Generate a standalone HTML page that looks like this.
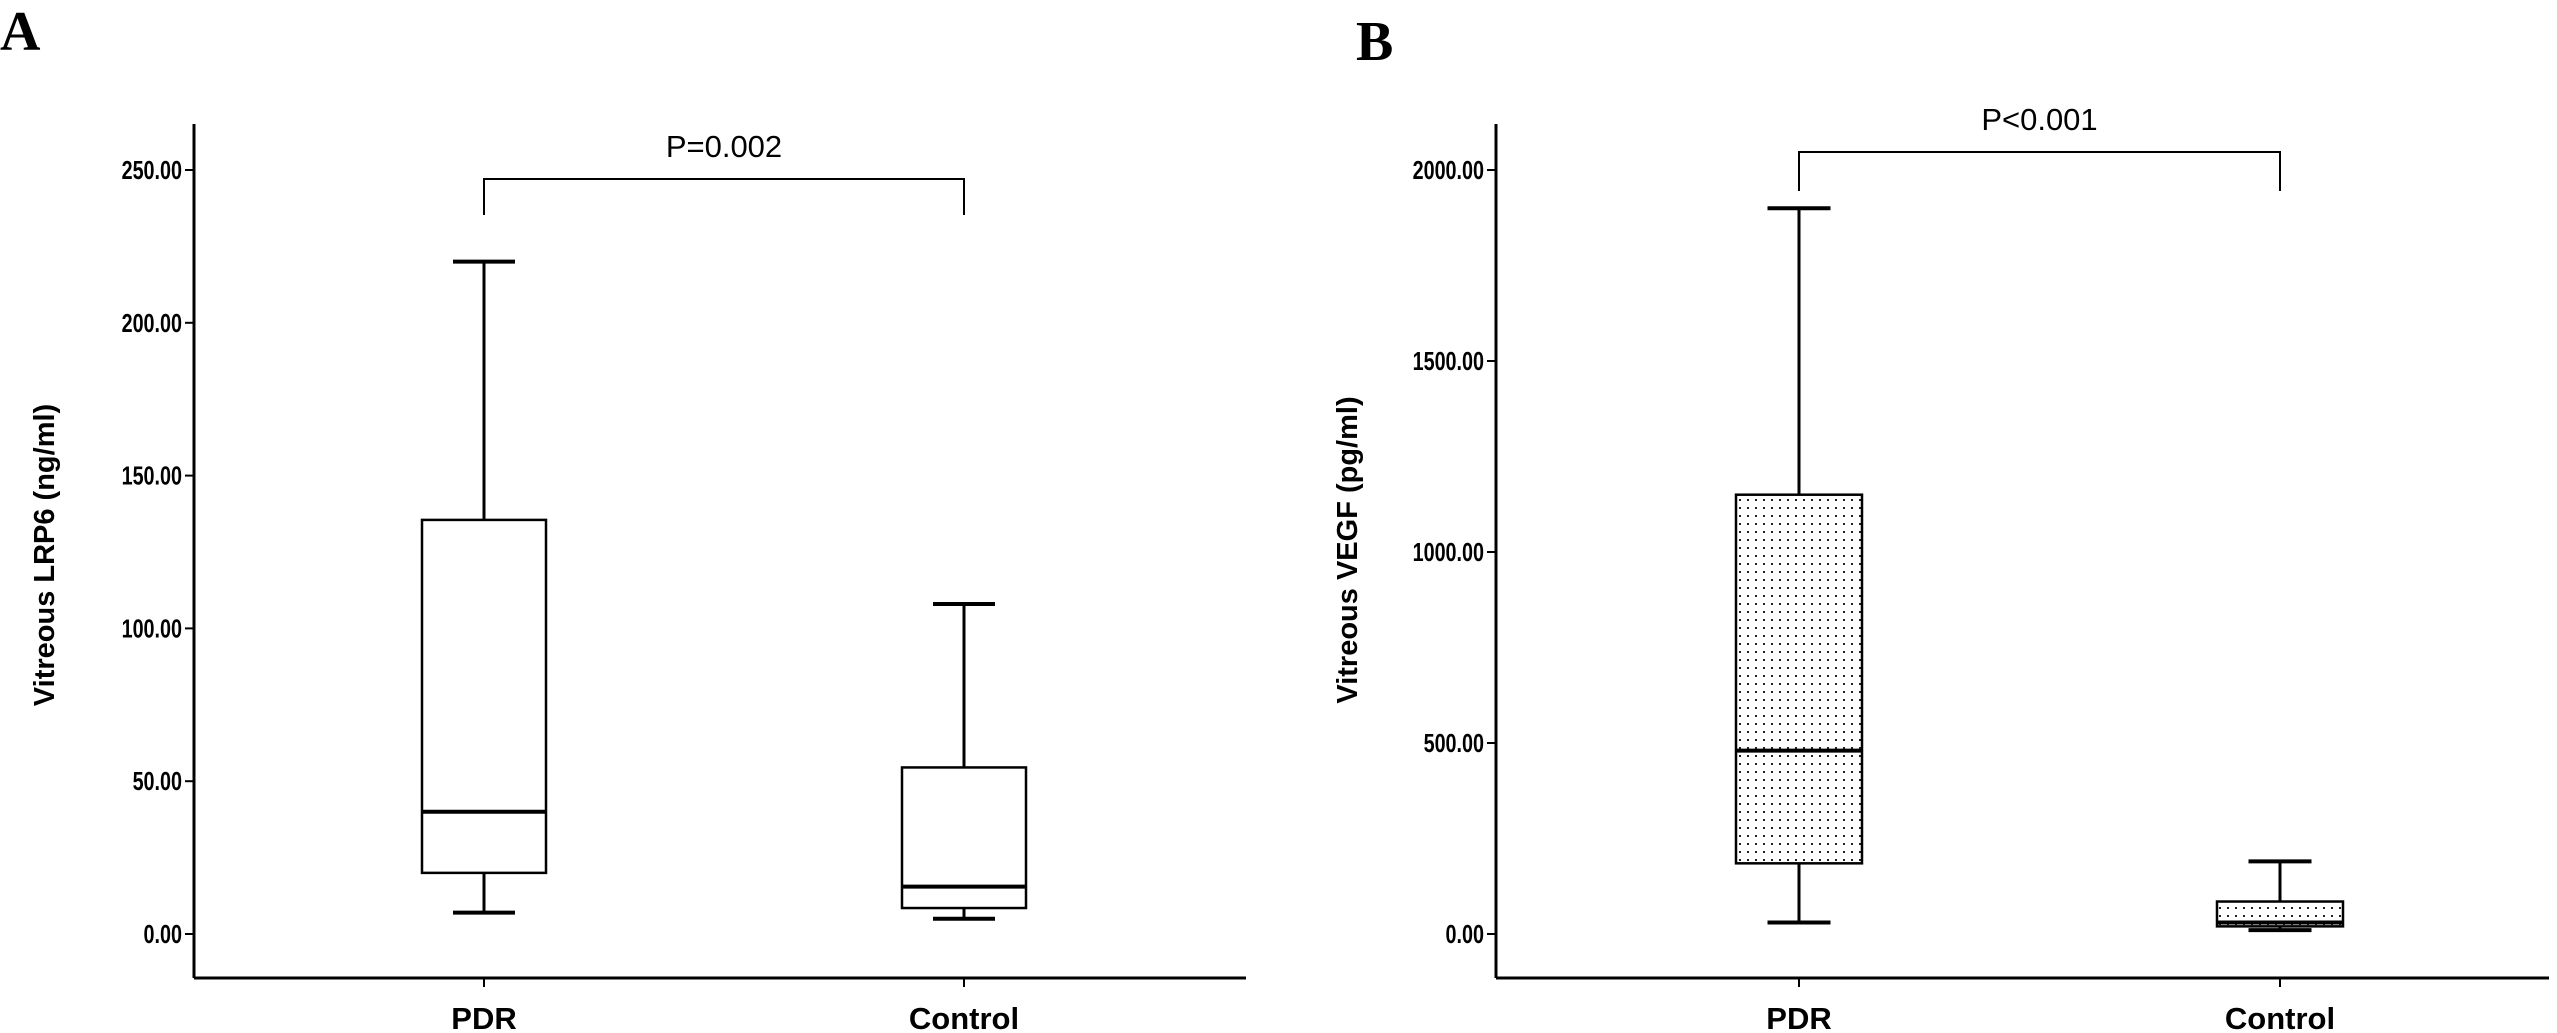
<!DOCTYPE html>
<html><head><meta charset="utf-8"><style>
html,body{margin:0;padding:0;background:#fff;}
svg{display:block;}
</style></head><body>
<svg id="chart" width="2557" height="1033" viewBox="0 0 2557 1033" xmlns="http://www.w3.org/2000/svg">
<defs>
<pattern id="dots" width="8" height="8" patternUnits="userSpaceOnUse">
<rect width="8" height="8" fill="#fff"/><rect x="3" y="3" width="2" height="2" fill="#222"/>
</pattern>
</defs>
<text x="0" y="50" font-family="Liberation Serif, serif" font-weight="bold" font-size="56">A</text>
<text x="1356" y="60" font-family="Liberation Serif, serif" font-weight="bold" font-size="56">B</text>
<g id="pa"></g>
<g id="pb"></g>
</svg>
<script>
const catsA = ["PDR","Control"];
const hiA = [220,108];
const q3A = [135.5,54.5];
const medA = [40,15.5];
const q1A = [20,8.5];
const loA = [7,5];
const ticksA = [0,50,100,150,200,250];
const tickLabA = ["0.00","50.00","100.00","150.00","200.00","250.00"];

const catsB = ["PDR","Control"];
const hiB = [1900,190];
const q3B = [1150,85];
const medB = [480,30];
const q1B = [185,20];
const loB = [30,10];
const ticksB = [0,500,1000,1500,2000];
const tickLabB = ["0.00","500.00","1000.00","1500.00","2000.00"];

const NS="http://www.w3.org/2000/svg";
function mk(parent,tag,attrs,text){const e=document.createElementNS(NS,tag);for(const k in attrs)e.setAttribute(k,attrs[k]);if(text!==undefined)e.textContent=text;parent.appendChild(e);return e;}

function panel(g,cfg){
  const y=v=>cfg.y0-(v-0)/cfg.tmax*(cfg.y0-cfg.yTop);
  const sw=3;
  let e=mk(g,'line',{x1:cfg.ax,y1:124,x2:cfg.ax,y2:978,stroke:'#000','stroke-width':sw});
  
  
  e=mk(g,'line',{x1:cfg.ax,y1:978,x2:cfg.axEnd,y2:978,stroke:'#000','stroke-width':sw});
  
  
  cfg.ticks.forEach((t,i)=>{
    let l=mk(g,'line',{x1:cfg.ax-9,y1:y(t),x2:cfg.ax,y2:y(t),stroke:'#000','stroke-width':2});
    
    
    let tx=mk(g,'text',{x:cfg.ax-12,y:y(t)+9,'text-anchor':'end','font-family':'Liberation Sans, sans-serif','font-weight':'bold','font-size':26,transform:`translate(${cfg.ax-12},0) scale(0.76,1) translate(${-(cfg.ax-12)},0)`},cfg.tickLab[i]);
    
    
  });
  let yt=mk(g,'text',{x:0,y:0,'text-anchor':'middle','font-family':'Liberation Sans, sans-serif','font-weight':'bold','font-size':29,transform:`translate(${cfg.titleX},${cfg.titleY}) rotate(-90)`},cfg.title);
  
  
  cfg.cats.forEach((c,i)=>{
    const cx=cfg.cx[i], hw=cfg.hw;
    const grp=mk(g,'g',{});
    
    
    mk(grp,'line',{x1:cx,y1:y(cfg.hi[i]),x2:cx,y2:y(cfg.q3[i]),stroke:'#000','stroke-width':sw});
    mk(grp,'line',{x1:cx,y1:y(cfg.q1[i]),x2:cx,y2:y(cfg.lo[i]),stroke:'#000','stroke-width':sw});
    mk(grp,'line',{x1:cx-hw/2,y1:y(cfg.hi[i]),x2:cx+hw/2,y2:y(cfg.hi[i]),stroke:'#000','stroke-width':4});
    mk(grp,'line',{x1:cx-hw/2,y1:y(cfg.lo[i]),x2:cx+hw/2,y2:y(cfg.lo[i]),stroke:'#000','stroke-width':4});
    mk(grp,'rect',{x:cx-hw,y:y(cfg.q3[i]),width:hw*2,height:y(cfg.q1[i])-y(cfg.q3[i]),fill:cfg.fill,stroke:'#000','stroke-width':2.5});
    mk(grp,'line',{x1:cx-hw,y1:y(cfg.med[i]),x2:cx+hw,y2:y(cfg.med[i]),stroke:'#000','stroke-width':4});
    mk(g,'line',{x1:cx,y1:978,x2:cx,y2:987,stroke:'#000','stroke-width':2});
    let xl=mk(g,'text',{x:cx,y:1029,'text-anchor':'middle','font-family':'Liberation Sans, sans-serif','font-weight':'bold','font-size':31},c);
    
    
  });
  let br=mk(g,'path',{d:`M${cfg.cx[0]},${cfg.bBot} V${cfg.bTop} H${cfg.cx[1]} V${cfg.bBot}`,fill:'none',stroke:'#000','stroke-width':2});
  
  
  let pt=mk(g,'text',{x:(cfg.cx[0]+cfg.cx[1])/2,y:cfg.bTop-22,'text-anchor':'middle','font-family':'Liberation Sans, sans-serif','font-size':31},cfg.p);
  
  
}
panel(document.getElementById('pa'),{ax:194,axEnd:1246,y0:934,yTop:170,tmax:250,ticks:ticksA,tickLab:tickLabA,cats:catsA,
  hi:hiA,q3:q3A,med:medA,q1:q1A,lo:loA,cx:[484,964],hw:62,fill:'#fff',title:'Vitreous LRP6 (ng/ml)',titleX:54,titleY:555,
  bTop:179,bBot:215,p:'P=0.002'});
panel(document.getElementById('pb'),{ax:1496,axEnd:2549,y0:934,yTop:170,tmax:2000,ticks:ticksB,tickLab:tickLabB,cats:catsB,
  hi:hiB,q3:q3B,med:medB,q1:q1B,lo:loB,cx:[1799,2280],hw:63,fill:'url(#dots)',title:'Vitreous VEGF (pg/ml)',titleX:1357,titleY:550,
  bTop:152,bBot:191,p:'P<0.001'});
</script>
</body></html>
